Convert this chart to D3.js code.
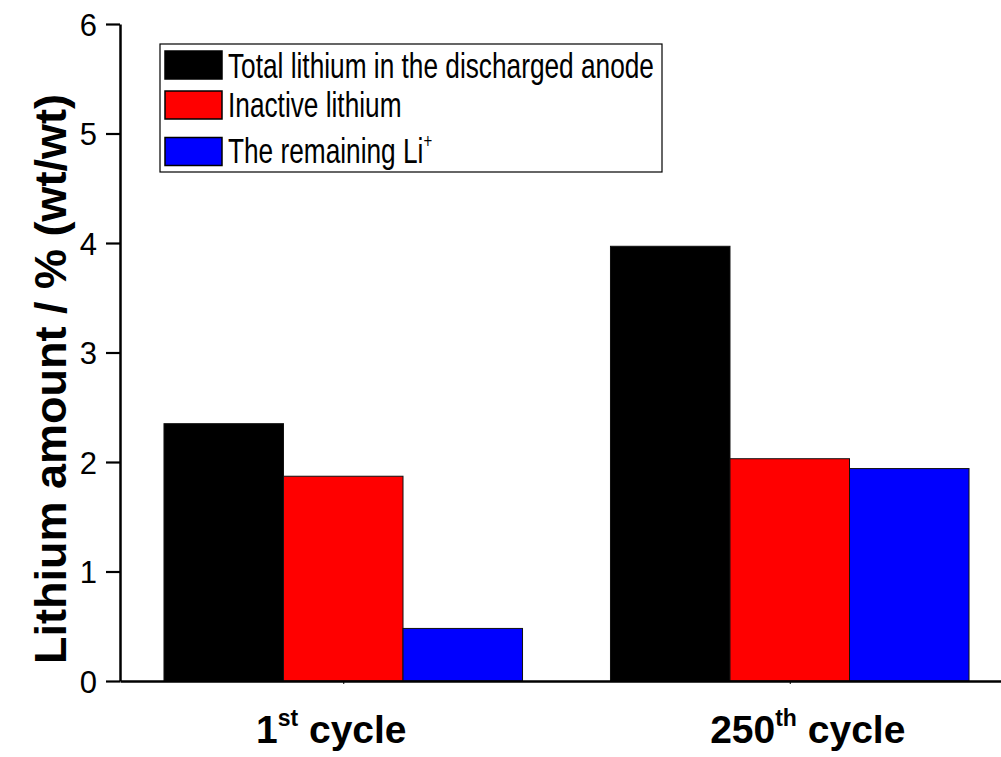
<!DOCTYPE html>
<html>
<head>
<meta charset="utf-8">
<script src="https://cdn.jsdelivr.net/npm/d3@7"></script>
<style>
  html, body { margin: 0; padding: 0; background: #fff; }
  svg { display: block; }
</style>
</head>
<body>
<svg width="1001" height="757"></svg>
<script>
// data
var cycles = ["1st", "250th"];
var cycleSup = ["st", "th"];
var cycleNum = ["1", "250"];
var series = ["Total lithium in the discharged anode", "Inactive lithium", "The remaining Li"];
var colors = ["#000000", "#ff0000", "#0000ff"];
var totalLi = [2.35, 3.97];
var inactiveLi = [1.87, 2.03];
var remainingLi = [0.48, 1.94];
var yTicks = [0, 1, 2, 3, 4, 5, 6];

var values = [totalLi, inactiveLi, remainingLi];

var svg = d3.select("svg");
var font = "'Liberation Sans', Arial, sans-serif";

var y = d3.scaleLinear().domain([0, 6]).range([681, 24]);
var x0 = d3.scalePoint().domain(cycles).range([120, 1013]).padding(0.5);
var groupW = x0.step() * 0.803;
var x1 = d3.scaleBand().domain(d3.range(series.length)).range([-groupW / 2, groupW / 2]);

// bars
var groups = svg.selectAll("g.grp")
    .data(cycles)
    .enter().append("g")
    .attr("class", "grp")
    .attr("transform", function (d) { return "translate(" + x0(d) + ",0)"; });

groups.selectAll("rect")
    .data(function (d, i) {
        return values.map(function (v, s) { return { s: s, v: v[i] }; });
    })
    .enter().append("rect")
    .attr("x", function (d) { return x1(d.s); })
    .attr("y", function (d) { return y(d.v); })
    .attr("width", x1.bandwidth())
    .attr("height", function (d) { return y(0) - y(d.v); })
    .style("fill", function (d) { return colors[d.s]; })
    .style("stroke", "#111")
    .style("stroke-width", 1);

// y axis
var yAxis = svg.append("g")
    .attr("transform", "translate(120,0)")
    .call(d3.axisLeft(y).tickValues(yTicks).tickSize(14).tickSizeOuter(0).tickPadding(9)
        .tickFormat(d3.format("d")));
yAxis.attr("font-size", null).attr("font-family", null);
yAxis.select(".domain").attr("stroke", "#000").attr("stroke-width", 2.5);
yAxis.selectAll(".tick line").attr("stroke", "#000").attr("stroke-width", 2.2);
yAxis.selectAll(".tick text")
    .attr("dy", "0.36em")
    .style("font-family", font)
    .style("font-size", "31px")
    .style("fill", "#000");

// x axis
var xAxis = svg.append("g")
    .attr("transform", "translate(0,681)")
    .call(d3.axisBottom(x0).tickSize(3).tickSizeOuter(0).tickFormat(""));
xAxis.select(".domain").attr("stroke", "#000").attr("stroke-width", 2.5);
xAxis.selectAll(".tick line").attr("stroke", "#000").attr("stroke-width", 1);

// x category labels with superscripts
var labelDx = [-12, 18];
var xl = svg.selectAll("text.xlab")
    .data(cycles)
    .enter().append("text")
    .attr("class", "xlab")
    .attr("x", function (d, i) { return x0(d) + labelDx[i]; })
    .attr("y", 743)
    .attr("text-anchor", "middle")
    .style("font-family", font)
    .style("font-weight", "bold")
    .style("font-size", "39px");
xl.append("tspan").text(function (d, i) { return cycleNum[i]; });
xl.append("tspan").style("font-size", "23px").attr("dy", -17).text(function (d, i) { return cycleSup[i]; });
xl.append("tspan").attr("dy", 17).text(" cycle");

// y axis title
svg.append("text")
    .attr("transform", "translate(66,379) rotate(-90)")
    .attr("text-anchor", "middle")
    .style("font-family", font)
    .style("font-weight", "bold")
    .style("font-size", "45px")
    .text("Lithium amount / % (wt/wt)");

// legend
var legend = svg.append("g");
legend.append("rect")
    .attr("x", 160).attr("y", 44)
    .attr("width", 502).attr("height", 128)
    .style("fill", "#fff")
    .style("stroke", "#000")
    .style("stroke-width", 1.2);

var swY = [51, 91, 137.5];
var txtY = [78, 117, 162.5];
legend.selectAll("rect.sw")
    .data(series)
    .enter().append("rect")
    .attr("class", "sw")
    .attr("x", 165)
    .attr("y", function (d, i) { return swY[i]; })
    .attr("width", 57)
    .attr("height", 28)
    .style("fill", function (d, i) { return colors[i]; })
    .style("stroke", "#000")
    .style("stroke-width", 1.5);

var lt = legend.selectAll("text.lt")
    .data(series)
    .enter().append("text")
    .attr("class", "lt")
    .attr("transform", function (d, i) { return "translate(228," + txtY[i] + ") scale(0.75,1)"; })
    .style("font-family", font)
    .style("font-size", "35px")
    .text(function (d) { return d; });
lt.filter(function (d, i) { return i === 2; })
    .append("tspan")
    .style("font-size", "20px")
    .attr("dy", -15)
    .text("+");
</script>
</body>
</html>
